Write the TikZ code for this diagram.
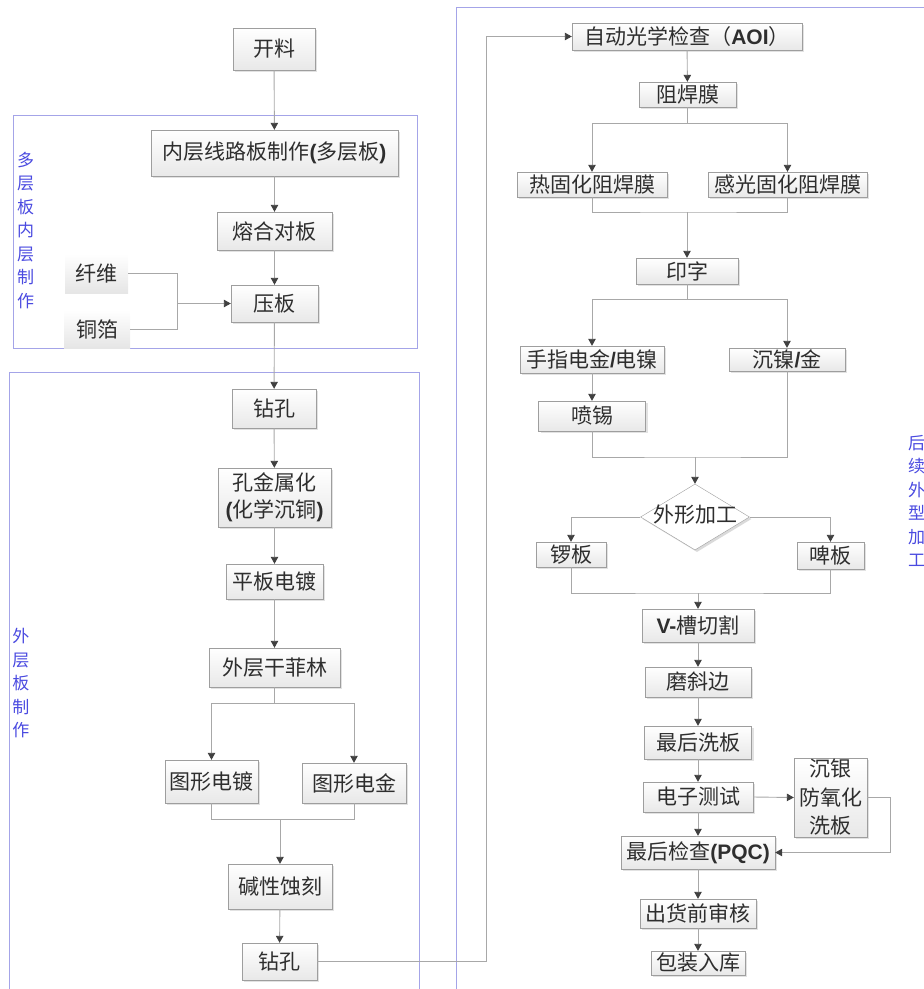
\documentclass[tikz,border=0pt]{standalone}
\usepackage{fontspec}
\setmainfont{Noto Sans CJK SC}
\newfontfamily\latin{Liberation Sans}
\usetikzlibrary{shapes.geometric,shadows,arrows.meta}
\definecolor{edge}{HTML}{A8A8A8}
\definecolor{tip}{HTML}{404040}
\definecolor{frame}{HTML}{A4A4E8}
\definecolor{notecol}{HTML}{4A4AE0}
\definecolor{ink}{HTML}{2E2E2E}
\newcommand\lb[1]{{\latin\bfseries #1}}
\begin{document}
\begin{tikzpicture}[x=1pt,y=-1pt,
  sz/.style 2 args={minimum width=#1pt,minimum height=#2pt},
  box/.style={draw=black!38, top color=white, bottom color=black!9, text=ink,
    font=\fontsize{21}{27}\selectfont, inner sep=0pt, align=center,
    drop shadow={shadow xshift=2pt,shadow yshift=-2pt,fill=black!14,opacity=0.8}},
  soft/.style={top color=white, bottom color=black!10, text=ink,
    font=\fontsize{21}{27}\selectfont, inner sep=0pt},
  link/.style={draw=edge, line width=0.9pt},
  arr/.style={link, -{Triangle[length=7pt,width=7.5pt,color=tip]}},
  note/.style={text=notecol, font=\fontsize{17}{23.5}\selectfont, align=center, inner sep=0pt},
  region/.style={draw=frame, line width=0.8pt}]
\useasboundingbox (0,0) rectangle (924,989);

% ---- region frames and their captions ----
\draw[region] (13,115) rectangle (417,348);
\draw[region] (9,992) -- (9,372) -- (419,372) -- (419,992);
\draw[region] (456,992) -- (456,7) -- (930,7);
\node[note] (capA) at (25.5,230.5) {多\\层\\板\\内\\层\\制\\作};
\node[note] (capB) at (21,683.5) {外\\层\\板\\制\\作};
\node[note] (capC) at (916.5,501) {后\\续\\外\\型\\加\\工};

% ---- left column: inner and outer layers ----
\node[box, sz={82}{42}]  (kl)  at (274,49)      {开料};
\node[box, sz={247}{46}] (nc)  at (274.5,153)   {内层线路板制作\lb{(}多层板\lb{)}};
\node[box, sz={115}{38}] (rh)  at (274.5,231)   {熔合对板};
\node[box, sz={87}{37}]  (yb)  at (274.5,303.5) {压板};
\node[soft, sz={63}{39}] (xw)  at (96.5,273.5)  {纤维};
\node[soft, sz={66}{38}] (tb)  at (97,329)      {铜箔};
\node[box, sz={84}{39}]  (zk1) at (274,408.5)   {钻孔};
\node[box, sz={113}{59}] (kj)  at (274.5,497.5) {孔金属化\\\lb{(}化学沉铜\lb{)}};
\node[box, sz={97}{35}]  (pb)  at (274.5,581.5) {平板电镀};
\node[box, sz={131}{39}] (wc)  at (274.5,667.5) {外层干菲林};
\node[box, sz={93}{43}]  (tx1) at (211.5,781.5) {图形电镀};
\node[box, sz={104}{40}] (tx2) at (354,783)     {图形电金};
\node[box, sz={104}{45}] (js)  at (280,886.5)   {碱性蚀刻};
\node[box, sz={75}{37}]  (zk2) at (279.5,961.5) {钻孔};

% ---- right column: finishing ----
\node[box, sz={230}{27}] (aoi) at (687,36.5)    {自动光学检查（\lb{AOI}）};
\node[box, sz={97}{25}]  (zh)  at (687.5,94.5)  {阻焊膜};
\node[box, sz={150}{25}] (rg)  at (592,184.5)   {热固化阻焊膜};
\node[box, sz={159}{25}] (gg)  at (787.5,184.5) {感光固化阻焊膜};
\node[box, sz={102}{26}] (yz)  at (687,271)     {印字};
\node[box, sz={144}{27}] (sz)  at (592,359.5)   {手指电金\lb{/}电镍};
\node[box, sz={116}{23}] (cn)  at (787,359.5)   {沉镍\lb{/}金};
\node[box, sz={107}{30}] (px)  at (592,416)     {喷锡};
\node[diamond, draw=black!38, fill=white, inner sep=0pt, minimum width=109pt, minimum height=66pt,
  drop shadow={shadow xshift=2pt,shadow yshift=-2pt,fill=black!18,opacity=0.8}] (dia) at (695,517) {};
\node[text=ink, font=\fontsize{21}{27}\selectfont, inner sep=0pt] (diat) at (695,515) {外形加工};
\node[box, sz={70}{25}]  (lbn) at (571,554.5)   {锣板};
\node[box, sz={67}{27}]  (pbn) at (830.5,555.5) {啤板};
\node[box, sz={112}{33}] (vc)  at (698,625.5)   {\lb{V-}槽切割};
\node[box, sz={106}{30}] (mx)  at (698,682)     {磨斜边};
\node[box, sz={107}{33}] (zx)  at (698,742.5)   {最后洗板};
\node[box, sz={110}{30}] (dz)  at (698,797)     {电子测试};
\node[box, sz={73}{79}, font=\fontsize{21}{28.5}\selectfont] (cy) at (830.5,797.5) {沉银\\防氧化\\洗板};
\node[box, sz={154}{33}] (pqc) at (698,852.5)   {最后检查\lb{(PQC)}};
\node[box, sz={116}{29}] (ch)  at (698,913.5)   {出货前审核};
\node[box, sz={94}{24}]  (bz)  at (698,963)     {包装入库};

% ---- junction points ----
\coordinate (jPress) at (177,303.5);
\coordinate (jDry)   at (274.5,703);
\coordinate (jEtch)  at (280,819);
\coordinate (jLoop)  at (486,961.5);
\coordinate (jMask)  at (687.5,123);
\coordinate (jMaskM) at (687,212);
\coordinate (jPrint) at (687,299);
\coordinate (jShape) at (695,457);
\coordinate (jCut)   at (698,593);
\coordinate (jSilv)  at (890,797.5);

% ---- connectors, left column ----
\draw[arr] (kl) -- (nc);
\draw[arr] (nc) -- (rh);
\draw[arr] (rh) -- (yb);
\draw[link] (xw.east) -| (jPress);
\draw[link] (tb.east) -| (jPress);
\draw[arr] (jPress) -- (yb.west);
\draw[arr] (yb) -- (zk1);
\draw[arr] (zk1) -- (kj);
\draw[arr] (kj) -- (pb);
\draw[arr] (pb) -- (wc);
\draw[link] (wc.south) -- (jDry);
\draw[arr] (jDry) -| (tx1.north);
\draw[arr] (jDry) -| (tx2.north);
\draw[link] (tx1.south) |- (jEtch) -| (tx2.south);
\draw[arr] (jEtch) -- (js.north);
\draw[arr] (js) -- (zk2);
\draw[arr] (zk2.east) -- (jLoop) |- (aoi.west);

% ---- connectors, right column ----
\draw[arr] (aoi) -- (zh);
\draw[link] (zh.south) -- (jMask);
\draw[arr] (jMask) -| (rg.north);
\draw[arr] (jMask) -| (gg.north);
\draw[link] (rg.south) |- (jMaskM) -| (gg.south);
\draw[arr] (jMaskM) -- (yz.north);
\draw[link] (yz.south) -- (jPrint);
\draw[arr] (jPrint) -| (sz.north);
\draw[arr] (jPrint) -| (cn.north);
\draw[arr] (sz) -- (px);
\draw[link] (px.south) |- (jShape) -| (cn.south);
\draw[arr] (jShape) -- (dia.north);
\draw[arr] (dia.west) -| (lbn.north);
\draw[arr] (dia.east) -| (pbn.north);
\draw[link] (lbn.south) |- (jCut) -| (pbn.south);
\draw[arr] (jCut) -- (vc.north);
\draw[arr] (vc) -- (mx);
\draw[arr] (mx) -- (zx);
\draw[arr] (zx) -- (dz);
\draw[arr] (dz) -- (pqc);
\draw[arr] (dz.east) -- (cy.west);
\draw[arr] (cy.east) -- (jSilv) |- (pqc.east);
\draw[arr] (pqc) -- (ch);
\draw[arr] (ch) -- (bz);
\end{tikzpicture}
\end{document}
